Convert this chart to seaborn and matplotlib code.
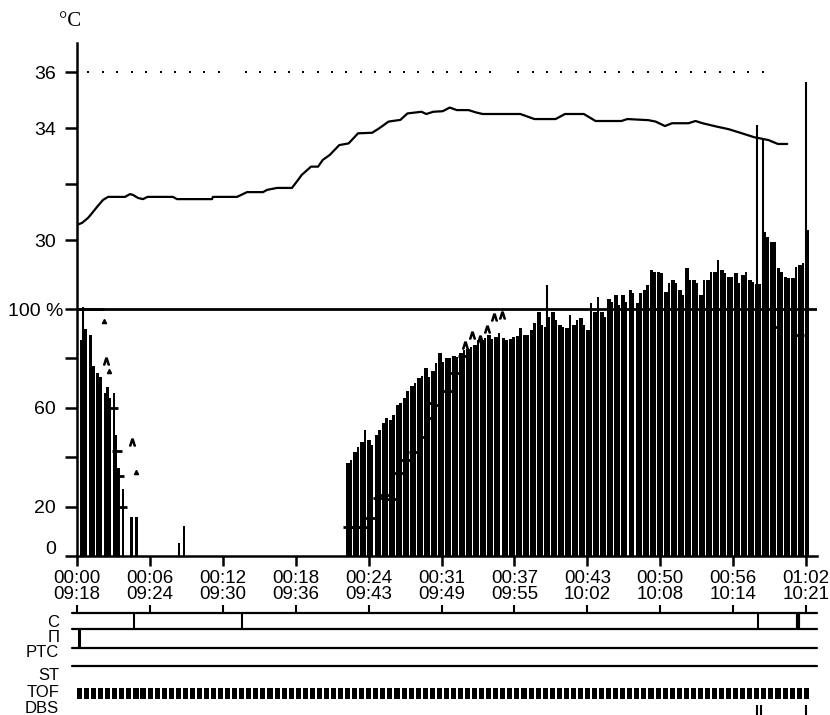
import numpy as np
import matplotlib
matplotlib.use("Agg")
import matplotlib.pyplot as plt
import matplotlib.transforms as mtransforms
import seaborn as sns

# ---------------- data ----------------
# central temperature (minutes from start, degC)
temp_t = [0, 0.43, 0.94, 1.28, 1.70, 2.21, 2.64, 4.08, 4.51, 4.76, 5.2, 5.61, 6.0, 8.16, 8.5,
          11.48, 11.56, 13.61, 14.46, 15.82, 16.16, 17.01, 18.28, 18.79, 19.1, 19.9, 20.5,
          20.9, 21.5, 22.3, 23.1, 23.9, 25.1, 25.7, 26.5, 27.5, 28.1, 29.3, 29.7, 30.3, 31.1,
          31.7, 32.3, 33.3, 33.9, 34.5, 37.7, 38.9, 40.7, 41.5, 43.1, 44.1, 46.3, 46.8, 48.6,
          49.2, 50.0, 50.6, 52.0, 52.6, 53.2, 54.4, 55.4, 56.4, 57.6, 58.8, 59.6, 60.4]
temp_c = [30.54, 30.61, 30.79, 30.96, 31.18, 31.43, 31.54, 31.54, 31.64, 31.61, 31.50, 31.46,
          31.54, 31.54, 31.46, 31.46, 31.54, 31.54, 31.71, 31.71, 31.79, 31.86, 31.86, 32.14,
          32.32, 32.62, 32.62, 32.86, 33.04, 33.39, 33.45, 33.81, 33.83, 33.99, 34.23, 34.29,
          34.52, 34.58, 34.50, 34.58, 34.60, 34.73, 34.64, 34.64, 34.56, 34.50, 34.50, 34.32,
          34.32, 34.50, 34.50, 34.25, 34.25, 34.32, 34.28, 34.23, 34.07, 34.17, 34.17, 34.25,
          34.17, 34.05, 33.96, 33.83, 33.67, 33.57, 33.43, 33.43]

# peripheral reference temperature samples (dotted 36 degC line)
ref_t = [0.95, 2.19, 3.42, 4.66, 5.89, 7.13, 8.36, 9.60, 10.84, 12.07,
         14.35, 15.57, 16.80, 18.02, 19.24, 20.46, 21.69, 22.91, 24.13, 25.35, 26.58,
         27.80, 29.02, 30.24, 31.47, 32.69, 33.91, 35.13,
         37.53, 38.75, 39.97, 41.19, 42.42, 43.64, 44.86, 46.08, 47.31, 48.53, 49.75,
         50.97, 52.20, 53.42, 54.64, 55.86, 57.08, 58.30]
ref_c = [36.0] * len(ref_t)

# early TOF bars (minutes, %)
early_t = [0.37, 0.70, 1.13, 1.39, 1.75, 2.0, 2.38, 2.57, 2.76, 3.13, 3.33, 3.51, 3.9,
           4.65, 5.08, 8.67, 9.1]
early_pct = [87.4, 92, 89.5, 77, 74, 72.5, 66, 68.5, 64, 66, 49, 35.6, 27, 15.8, 15.8, 5.3, 12]

# recovery phase: measurements every 0.6 min from 22.9 min, two values per measurement
meas_start = 22.9
meas_interval = 0.6
tof_a = [37.6, 42, 46, 47, 49, 54, 55, 61, 64, 69, 72, 76, 75, 82, 80, 81, 82, 84, 85.4, 87.4,
         89.5, 88.7, 88.3, 88, 89, 89.5, 91.5, 98.8, 92.7, 98.8, 93.5, 92.3, 93.5, 96.4, 91.5,
         98.8, 98.8, 104, 105.7, 105.7, 107.7, 102.4, 107.7, 115.8, 115, 107, 111.7, 107.7,
         116.6, 111.7, 105.7, 111.7, 115, 115.8, 113, 114.6, 113.8, 111.7, 110, 131, 127,
         116.6, 113, 112.5, 117.8, 132]
tof_b = [39, 44, 51, 45, 51, 56, 57, 62, 67, 70, 73, 72.5, 78, 78.5, 80, 80.6, 83.4, 84.5,
         87.4, 88.3, 88, 90.3, 87.4, 88.5, 92.3, 89.5, 94.3, 93.5, 96.8, 95.5, 92.7, 97.6,
         95.5, 93.5, 102.4, 105, 96.8, 103, 101.6, 103, 106.5, 106.5, 109.7, 115, 114.6,
         110.5, 110.5, 105.7, 111.7, 110.5, 111.7, 115, 119.8, 114.6, 113, 110.5, 115, 111,
         110, 129, 127, 115, 112.5, 117, 118.6, 0]

# single tall readings
spike_t = [0.55, 40.0, 57.87, 58.33, 62.03]
spike_pct = [101, 109.7, 174.5, 169, 192]

# T1 markers (short dashes)
t1_t = [0.2, 0.75, 1.3, 1.85, 3.06, 3.4, 3.57, 3.83,
        23.05, 23.73, 24.41, 24.92, 25.6, 26.19, 26.7, 27.3, 27.98, 28.66, 29.34, 30.02,
        30.1, 30.7, 31.47, 32.15, 32.83, 59.5, 61.4]
t1_pct = [100, 100, 100, 100, 60, 42.5, 32.4, 20,
          11.7, 11.7, 11.7, 15.5, 23.5, 24.5, 23, 33.5, 39, 42, 48, 56,
          62, 61, 67, 74, 81, 92.7, 89.5]

# caret markers
caret_fill_t = [2.3, 2.72, 5.0]
caret_fill_pct = [95, 75, 34]
caret_open_t = [2.47, 4.68, 33.0, 33.6, 34.3, 34.9, 35.5, 36.1]
caret_open_pct = [79, 46, 85.4, 89.5, 88, 92, 96.8, 97.5]

# x axis labels
tick_min = [0, 6.2, 12.4, 18.6, 24.8, 31.0, 37.2, 43.4, 49.6, 55.8, 62.0]
elapsed = ['00:00', '00:06', '00:12', '00:18', '00:24', '00:31', '00:37', '00:43',
           '00:50', '00:56', '01:02']
clock = ['09:18', '09:24', '09:30', '09:36', '09:43', '09:49', '09:55', '10:02',
         '10:08', '10:14', '10:21']

# event rows
row_labels = ['C', 'П', 'PTC', 'ST', 'TOF', 'DBS']
c_events = [4.85, 14.03, 57.9]
c_events_bold = [61.3]
p_events = [0.17]
dbs_events = [57.85, 58.2, 62.0]
tof_first, tof_last = 0.0, 61.8

# ---------------- style ----------------
sns.set_theme(style='ticks', rc={'axes.edgecolor': 'black', 'text.color': 'black',
                                 'xtick.color': 'black', 'ytick.color': 'black',
                                 'axes.labelcolor': 'black'})
plt.rcParams['font.family'] = ['Liberation Sans', 'DejaVu Sans']

W, H = 830, 715
fig = plt.figure(figsize=(W / 100, H / 100), dpi=100)
ax = fig.add_axes([77 / W, 1 - 556 / H, 740 / W, 513 / H])
ax.set_xlim(0, 62.93)
ax.set_ylim(0, 207.7)
axT = ax.twinx()
axT.set_ylim(18.714, 37.036)

K = 'black'
# bars
meas_t = meas_start + meas_interval * np.arange(len(tof_a))
ax.bar(meas_t, tof_a, width=0.32, align='edge', color=K, linewidth=0)
ax.bar(meas_t + 0.32, tof_b, width=0.19, align='edge', color=K, linewidth=0)
ax.bar(early_t, early_pct, width=0.22, align='center', color=K, linewidth=0)
ax.vlines(spike_t, 0, spike_pct, color=K, lw=1.5)
ax.axhline(100, color=K, lw=2)
ax.plot(t1_t, t1_pct, ls='none', marker='_', ms=7, mew=2, color=K)
ax.plot(caret_fill_t, caret_fill_pct, ls='none', marker='^', ms=3, color=K)
ax.plot(caret_open_t, caret_open_pct, ls='none', marker=r'$\wedge$', ms=5, color=K)

# temperatures
sns.lineplot(x=temp_t, y=temp_c, ax=axT, color=K, lw=1.6, estimator=None, sort=False)
sns.scatterplot(x=ref_t, y=ref_c, ax=axT, color=K, s=4.5, linewidth=0, marker='s')

# axes styling
for a in (ax, axT):
    for s in ('top', 'right'):
        a.spines[s].set_visible(False)
axT.spines['left'].set_visible(False)
axT.spines['bottom'].set_visible(False)
ax.spines['left'].set_linewidth(1.8)
ax.spines['bottom'].set_linewidth(1.8)

ax.set_yticks([0, 20, 40, 60, 80, 100], ['0', '20', '', '60', '', '100 %'])
axT.yaxis.tick_left()
axT.set_yticks([30, 32, 34, 36], ['30', '', '34', '36'])
for a in (ax, axT):
    a.tick_params(axis='y', direction='out', length=9, width=1.8, pad=6, labelsize=14)
ax.set_xticks(tick_min, [f'{e}\n{c}' for e, c in zip(elapsed, clock)])
ax.tick_params(axis='x', direction='out', length=7, width=1.8, pad=3, labelsize=13.5)
for lbl in ax.get_xticklabels():
    lbl.set_linespacing(0.92)
ylbls = ax.get_yticklabels()
ylbls[0].set_transform(ylbls[0].get_transform() +
                       mtransforms.ScaledTranslation(0, 0.09, fig.dpi_scale_trans))
ylbls[5].set_transform(ylbls[5].get_transform() +
                       mtransforms.ScaledTranslation(0.07, 0, fig.dpi_scale_trans))
ax.set_xlabel('')
ax.set_ylabel('')
axT.set_ylabel('')
fig.text(70 / W, 1 - 22 / H, '°C', family='Liberation Serif', fontsize=15,
         ha='center', va='center')

# ---------------- event rows ----------------
axB = fig.add_axes([77 / W, 0, 740 / W, 102 / H])
axB.set_xlim(0, 62.93)
axB.set_ylim(6, 0)
axB.set_facecolor('none')
for s in axB.spines.values():
    s.set_visible(False)
axB.set_yticks([])
axB.xaxis.tick_top()
axB.set_xticks(tick_min, [''] * len(tick_min))
axB.tick_params(axis='x', direction='out', length=6, width=1.5, pad=0)
row_lines = [0, 0.94, 2.06, 3.12]
for yv in row_lines:
    axB.axhline(yv, xmin=-0.007, xmax=1, color=K, lw=1.6, clip_on=False)
axB.vlines(c_events, row_lines[0], row_lines[1], color=K, lw=1.5)
axB.vlines(c_events_bold, row_lines[0], row_lines[1], color=K, lw=3)
axB.vlines(p_events, row_lines[1], row_lines[2], color=K, lw=2.2)
tof_t = np.arange(tof_first, tof_last + 0.01, meas_interval)
axB.bar(tof_t, [0.65] * len(tof_t), bottom=4.41, width=0.43, align='edge',
        color=K, linewidth=0)
axB.vlines(dbs_events, 5.41, 6.0, color=K, lw=1.5, clip_on=False)
btr = mtransforms.blended_transform_factory(axB.transAxes, axB.transData)
for lab, yy in zip(row_labels, [0.53, 1.47, 2.35, 3.65, 4.7, 5.6]):
    axB.text(-0.024, yy, lab, transform=btr, ha='right', va='center', fontsize=12)

fig.savefig('out.png', dpi=100)
